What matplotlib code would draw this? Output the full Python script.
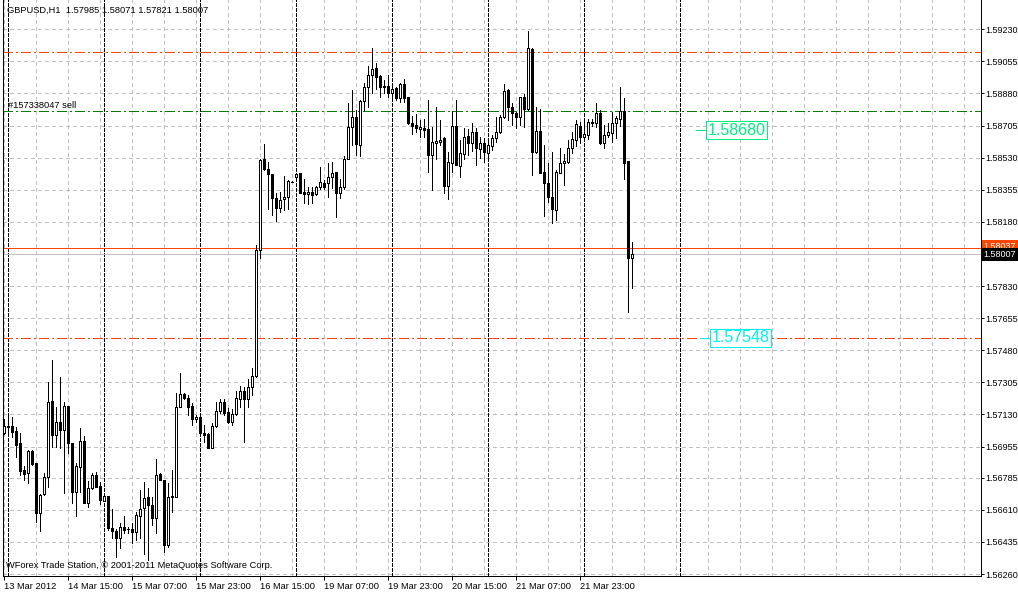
import matplotlib
matplotlib.use("Agg")
import matplotlib.pyplot as plt
from matplotlib.transforms import blended_transform_factory
from datetime import datetime, timedelta

plt.rcParams['font.family'] = ['Liberation Sans', 'DejaVu Sans']
plt.rcParams['lines.scale_dashes'] = False

symbol = "GBPUSD,H1"
first_bar = datetime(2012, 3, 13, 23)

# hourly candles, one per bar
opens = [
    1.57027, 1.57063, 1.57067, 1.57042, 1.56973, 1.56827, 1.56809, 1.56933,
    1.56864, 1.56591, 1.56696, 1.56791, 1.57202, 1.57016, 1.57089, 1.57045,
    1.57176, 1.56973, 1.56709, 1.56845, 1.56984, 1.56649, 1.56728, 1.56798,
    1.56740, 1.56660, 1.56686, 1.56509, 1.56496, 1.56455, 1.56515, 1.56504,
    1.56504, 1.56491, 1.56577, 1.56618, 1.56678, 1.56636, 1.56564, 1.56806,
    1.56773, 1.56418, 1.56678, 1.56682, 1.57169, 1.57242, 1.57218, 1.57176,
    1.57104, 1.57115, 1.57031, 1.57024, 1.56946, 1.57067, 1.57151, 1.57200,
    1.57145, 1.57091, 1.57133, 1.57213, 1.57260, 1.57213, 1.57281, 1.57340,
    1.58027, 1.58521, 1.58467, 1.58439, 1.58312, 1.58254, 1.58303, 1.58317,
    1.58399, 1.58423, 1.58445, 1.58343, 1.58332, 1.58343, 1.58330, 1.58369,
    1.58394, 1.58394, 1.58422, 1.58450, 1.58336, 1.58369, 1.58521, 1.58696,
    1.58750, 1.58598, 1.58837, 1.58914, 1.58981, 1.59017, 1.58975, 1.58921,
    1.58921, 1.58884, 1.58908, 1.58854, 1.58932, 1.58859, 1.58717, 1.58708,
    1.58685, 1.58692, 1.58685, 1.58545, 1.58612, 1.58617, 1.58636, 1.58376,
    1.58503, 1.58703, 1.58485, 1.58550, 1.58648, 1.58612, 1.58672, 1.58576,
    1.58608, 1.58557, 1.58594, 1.58636, 1.58670, 1.58750, 1.58899, 1.58805,
    1.58775, 1.58753, 1.58859, 1.58794, 1.59121, 1.58563, 1.58676, 1.58452,
    1.58390, 1.58317, 1.58245, 1.58448, 1.58499, 1.58508, 1.58581, 1.58626,
    1.58703, 1.58641, 1.58654, 1.58726, 1.58721, 1.58772, 1.58608, 1.58652,
    1.58666, 1.58717, 1.58743, 1.58783, 1.58512, 1.57985,
]
highs = [
    1.57105, 1.57122, 1.57116, 1.57060, 1.57027, 1.56849, 1.56936, 1.56936,
    1.56867, 1.56696, 1.56813, 1.57309, 1.57427, 1.57172, 1.57336, 1.57200,
    1.57176, 1.56973, 1.56864, 1.57055, 1.57013, 1.56769, 1.56813, 1.56818,
    1.56764, 1.56700, 1.56686, 1.56613, 1.56504, 1.56540, 1.56577, 1.56518,
    1.56537, 1.56600, 1.56718, 1.56764, 1.56728, 1.56678, 1.56886, 1.56809,
    1.56773, 1.56755, 1.56827, 1.57245, 1.57355, 1.57249, 1.57236, 1.57191,
    1.57127, 1.57136, 1.57073, 1.57027, 1.57082, 1.57200, 1.57213, 1.57213,
    1.57164, 1.57158, 1.57260, 1.57285, 1.57281, 1.57322, 1.57382, 1.58054,
    1.58521, 1.58605, 1.58508, 1.58439, 1.58336, 1.58345, 1.58430, 1.58408,
    1.58403, 1.58445, 1.58448, 1.58412, 1.58369, 1.58369, 1.58376, 1.58481,
    1.58408, 1.58503, 1.58507, 1.58454, 1.58414, 1.58539, 1.58827, 1.58899,
    1.58790, 1.58845, 1.58939, 1.59030, 1.59126, 1.59048, 1.58981, 1.58954,
    1.58981, 1.58917, 1.58914, 1.58936, 1.58957, 1.58863, 1.58757, 1.58768,
    1.58735, 1.58739, 1.58845, 1.58699, 1.58805, 1.58735, 1.58641, 1.58563,
    1.58786, 1.58845, 1.58626, 1.58690, 1.58685, 1.58717, 1.58690, 1.58644,
    1.58636, 1.58617, 1.58654, 1.58753, 1.58763, 1.58932, 1.58903, 1.58830,
    1.58781, 1.58863, 1.58877, 1.59221, 1.59128, 1.58805, 1.58794, 1.58599,
    1.58499, 1.58563, 1.58463, 1.58581, 1.58550, 1.58626, 1.58672, 1.58735,
    1.58726, 1.58735, 1.58739, 1.58739, 1.58827, 1.58790, 1.58708, 1.58717,
    1.58781, 1.58757, 1.58917, 1.58854, 1.58512, 1.58071,
]
lows = [
    1.57024, 1.57036, 1.57007, 1.56897, 1.56800, 1.56773, 1.56755, 1.56855,
    1.56545, 1.56496, 1.56691, 1.56736, 1.56951, 1.56951, 1.56946, 1.56704,
    1.56918, 1.56649, 1.56578, 1.56709, 1.56646, 1.56627, 1.56724, 1.56736,
    1.56640, 1.56657, 1.56500, 1.56455, 1.56355, 1.56400, 1.56482, 1.56482,
    1.56431, 1.56446, 1.56455, 1.56369, 1.56337, 1.56527, 1.56482, 1.56773,
    1.56382, 1.56409, 1.56600, 1.56682, 1.57169, 1.57213, 1.57127, 1.57073,
    1.57091, 1.57013, 1.56982, 1.56946, 1.56946, 1.57063, 1.57136, 1.57127,
    1.57082, 1.57073, 1.57127, 1.57172, 1.56982, 1.57172, 1.57236, 1.57334,
    1.57981, 1.58463, 1.58249, 1.58218, 1.58186, 1.58236, 1.58245, 1.58249,
    1.58396, 1.58418, 1.58336, 1.58285, 1.58278, 1.58281, 1.58327, 1.58358,
    1.58358, 1.58317, 1.58365, 1.58208, 1.58309, 1.58360, 1.58521, 1.58599,
    1.58545, 1.58539, 1.58790, 1.58805, 1.58881, 1.58903, 1.58863, 1.58881,
    1.58863, 1.58863, 1.58845, 1.58835, 1.58835, 1.58714, 1.58659, 1.58672,
    1.58641, 1.58641, 1.58454, 1.58354, 1.58521, 1.58599, 1.58339, 1.58303,
    1.58454, 1.58490, 1.58426, 1.58521, 1.58545, 1.58568, 1.58490, 1.58527,
    1.58508, 1.58535, 1.58572, 1.58617, 1.58666, 1.58745, 1.58735, 1.58708,
    1.58690, 1.58708, 1.58699, 1.58790, 1.58436, 1.58554, 1.58445, 1.58212,
    1.58290, 1.58172, 1.58190, 1.58445, 1.58381, 1.58503, 1.58557, 1.58594,
    1.58612, 1.58636, 1.58630, 1.58703, 1.58699, 1.58605, 1.58581, 1.58644,
    1.58617, 1.58636, 1.58703, 1.58412, 1.57690, 1.57821,
]
closes = [
    1.57067, 1.57067, 1.57036, 1.56965, 1.56823, 1.56806, 1.56933, 1.56860,
    1.56591, 1.56691, 1.56788, 1.57198, 1.57016, 1.57089, 1.57045, 1.57176,
    1.56973, 1.56709, 1.56849, 1.56984, 1.56646, 1.56728, 1.56798, 1.56736,
    1.56664, 1.56686, 1.56509, 1.56496, 1.56458, 1.56515, 1.56500, 1.56503,
    1.56491, 1.56582, 1.56613, 1.56673, 1.56636, 1.56564, 1.56800, 1.56773,
    1.56418, 1.56682, 1.56686, 1.57169, 1.57242, 1.57218, 1.57172, 1.57104,
    1.57115, 1.57031, 1.57018, 1.56946, 1.57067, 1.57151, 1.57200, 1.57140,
    1.57091, 1.57133, 1.57218, 1.57260, 1.57213, 1.57281, 1.57340, 1.58027,
    1.58517, 1.58467, 1.58439, 1.58312, 1.58254, 1.58299, 1.58317, 1.58403,
    1.58399, 1.58439, 1.58339, 1.58332, 1.58345, 1.58327, 1.58369, 1.58399,
    1.58372, 1.58423, 1.58449, 1.58336, 1.58369, 1.58521, 1.58699, 1.58750,
    1.58603, 1.58837, 1.58914, 1.58981, 1.59012, 1.58972, 1.58917, 1.58914,
    1.58881, 1.58903, 1.58854, 1.58932, 1.58854, 1.58717, 1.58703, 1.58690,
    1.58696, 1.58681, 1.58545, 1.58617, 1.58623, 1.58626, 1.58376, 1.58507,
    1.58703, 1.58490, 1.58557, 1.58644, 1.58608, 1.58672, 1.58581, 1.58608,
    1.58563, 1.58599, 1.58636, 1.58670, 1.58750, 1.58894, 1.58805, 1.58772,
    1.58750, 1.58859, 1.58794, 1.59126, 1.58563, 1.58676, 1.58448, 1.58390,
    1.58317, 1.58249, 1.58454, 1.58499, 1.58512, 1.58581, 1.58630, 1.58712,
    1.58641, 1.58659, 1.58726, 1.58717, 1.58772, 1.58608, 1.58652, 1.58670,
    1.58717, 1.58745, 1.58783, 1.58503, 1.57985, 1.58007,
]

price_ticks = [1.56260, 1.56435, 1.56610, 1.56785, 1.56955, 1.57130, 1.57305,
               1.57480, 1.57655, 1.57830, 1.58005, 1.58180, 1.58355, 1.58530,
               1.58705, 1.58880, 1.59055, 1.59230]

bid = 1.58007
ask = 1.58037
order_price = 1.58785
stop_loss = 1.59108
take_profit = 1.57548
label_up = 1.58680
label_down = 1.57548
order_text = "#157338047 sell"
footer = "WForex Trade Station, \u00a9 2001-2011 MetaQuotes Software Corp."

W, H = 1018, 592
PX = 0.72  # one pixel in points at dpi 100
fig = plt.figure(figsize=(W / 100, H / 100), dpi=100)
fig.patch.set_facecolor('white')
ax = fig.add_axes([2.5 / W, (H - 575.5) / H, 978 / W, 575.5 / H])
ax.set_xlim(-0.25, 244.25)
ax.set_ylim(1.562521, 1.593897)

# bar times, no weekend bars
times = []
t = first_bar
while len(times) < len(opens) + 24:
    if t.weekday() < 5:
        times.append(t)
    t += timedelta(hours=1)

# grid
for p in price_ticks:
    ax.axhline(p, color='#c0c0c0', lw=PX, ls=(0, (4 * PX, 4 * PX)), zorder=1, antialiased=False)
for b in range(0, 244, 8):
    ax.axvline(b, color='#c0c0c0', lw=PX, ls=(0, (4 * PX, 4 * PX)), zorder=1, antialiased=False)
for i, tm in enumerate(times):
    if tm.hour == 0:
        ax.axvline(i, color='black', lw=PX, ls=(0, (3 * PX, 2 * PX)), zorder=1.5, antialiased=False)

# order levels
dashdot = (0, (10 * PX, 3 * PX, 2 * PX, 3 * PX))
ax.axhline(stop_loss, color='#ff4500', lw=PX, ls=dashdot, zorder=2, antialiased=False)
ax.axhline(take_profit, color='#ff4500', lw=PX, ls=dashdot, zorder=2, antialiased=False)
ax.axhline(order_price, color='#008000', lw=PX, ls=dashdot, zorder=2, antialiased=False)
ax.axhline(ask, color='#ff4500', lw=PX, zorder=2, antialiased=False)
ax.axhline(bid, color='#c0c0c0', lw=PX, zorder=2, antialiased=False)

# candles
xs = list(range(len(opens)))
ax.vlines(xs, lows, highs, color='black', lw=PX, zorder=3, antialiased=False)
heights = [c - o for o, c in zip(opens, closes)]
fills = ['white' if c >= o else 'black' for o, c in zip(opens, closes)]
ax.bar(xs, heights, bottom=opens, width=0.5, color=fills, edgecolor='black',
       linewidth=PX, zorder=4, antialiased=False)

# price labels on the chart
up_col = '#00f080'
down_col = '#00f0f0'
ax.plot([173.1, 175.7], [label_up, label_up], color=up_col, lw=PX, zorder=5)
ax.text(176.1, label_up, f'{label_up:.5f}', color=up_col, fontsize=11.5, ha='left', va='center',
        zorder=6, bbox=dict(boxstyle='square,pad=0.1', fc='white', ec=up_col, lw=PX))
ax.plot([174.1, 176.7], [label_down, label_down], color=down_col, lw=PX, zorder=5)
ax.text(177.1, label_down, f'{label_down:.5f}', color=down_col, fontsize=11.5, ha='left', va='center',
        zorder=6, bbox=dict(boxstyle='square,pad=0.1', fc='white', ec=down_col, lw=PX))

# axes look
ax.spines['top'].set_visible(False)
for side in ['left', 'right', 'bottom']:
    ax.spines[side].set_linewidth(PX)
    ax.spines[side].set_color('black')

ax.yaxis.tick_right()
ax.set_yticks(price_ticks)
ax.set_yticklabels(['' if abs(p - 1.58005) < 1e-9 else f'{p:.5f}' for p in price_ticks])
ax.tick_params(axis='y', length=3 * PX, width=PX, pad=1.5, labelsize=6.5)

label_bars = list(range(0, len(opens), 16))
labels = [times[0].strftime('%d %b %Y')] + [times[b].strftime('%d %b %H:%M') for b in label_bars[1:]]
ax.set_xticks(label_bars)
ax.set_xticklabels(labels)
for lbl in ax.get_xticklabels():
    lbl.set_ha('left')
ax.tick_params(axis='x', length=4 * PX, width=PX, pad=1.5, labelsize=6.7)

# bid / ask tags on the price scale (ask tag mostly hidden behind the bid tag)
trans = blended_transform_factory(ax.transAxes, ax.transData)
ax.annotate(f'{ask:.5f}', xy=(1, ask), xycoords=trans, xytext=(3, 2), textcoords='offset pixels',
            ha='left', va='center', fontsize=6.5, color='white', annotation_clip=False, zorder=7,
            bbox=dict(boxstyle='square,pad=0.2', fc='#ff4500', ec='none'))
ax.annotate(f'{bid:.5f}', xy=(1, bid), xycoords=trans, xytext=(3, -1), textcoords='offset pixels',
            ha='left', va='center', fontsize=6.5, color='white', annotation_clip=False, zorder=8,
            bbox=dict(boxstyle='square,pad=0.2', fc='black', ec='none'))

ax.annotate(order_text, xy=(0, order_price), xycoords=trans, xytext=(5.5, 1), textcoords='offset pixels',
            ha='left', va='bottom', fontsize=6.7, color='black', zorder=6)

header = f'{symbol}  {opens[-1]:.5f} {highs[-1]:.5f} {lows[-1]:.5f} {closes[-1]:.5f}'
fig.text(7 / W, 1 - 10 / H, header, fontsize=6.7, ha='left', va='center')
fig.text(6 / W, 1 - 566 / H, footer, fontsize=6.7, ha='left', va='center')

fig.savefig('out.png', dpi=100, facecolor='white')
